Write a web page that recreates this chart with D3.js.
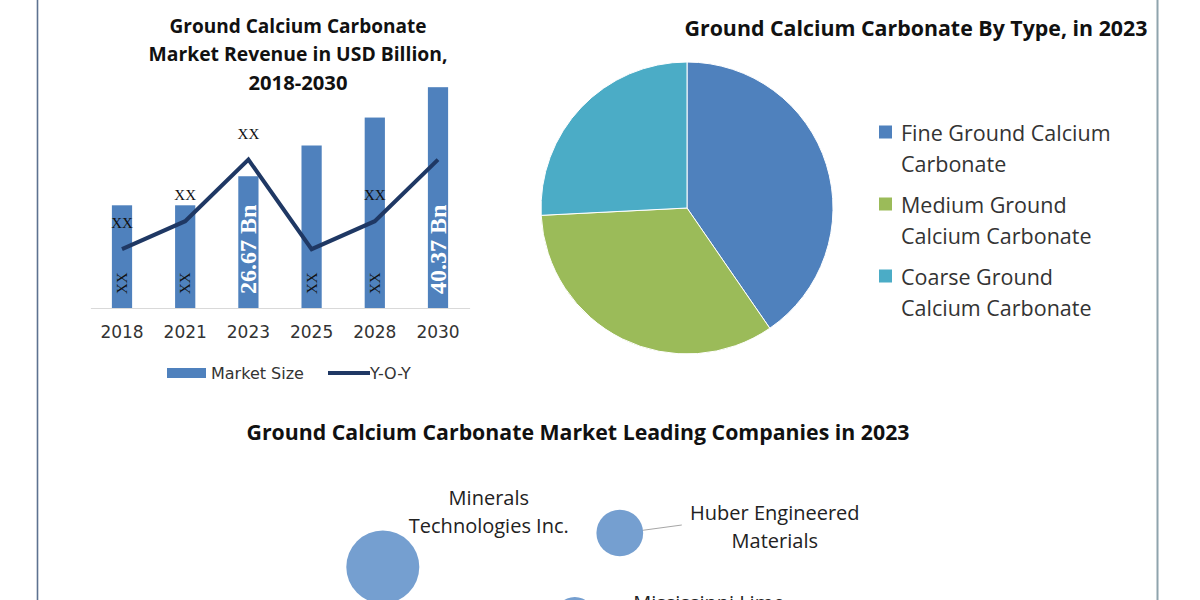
<!DOCTYPE html>
<html>
<head>
<meta charset="utf-8">
<script src="https://cdnjs.cloudflare.com/ajax/libs/d3/7.8.5/d3.min.js"></script>
<style>
	body { margin: 0; background: white; }
	svg { display: block; }
</style>
</head>
<body>
<script>
// bar + line chart data
var years = ['2018', '2021', '2023', '2025', '2028', '2030']
var marketSize = [22.2, 22.2, 26.67, 31.4, 35.7, 40.37]
var yoy = [2.1, 3.1, 5.3, 2.1, 3.1, 5.3]
var barLabels = ['XX', 'XX', '26.67 Bn', 'XX', 'XX', '40.37 Bn']
var lineLabels = ['XX', 'XX', 'XX', '', 'XX', '']

// pie data
var types = [
	'Fine Ground Calcium Carbonate',
	'Medium Ground Calcium Carbonate',
	'Coarse Ground Calcium Carbonate'
]
var typeLines = [
	['Fine Ground Calcium', 'Carbonate'],
	['Medium Ground', 'Calcium Carbonate'],
	['Coarse Ground', 'Calcium Carbonate']
]
var typeShare = [40.4, 33.8, 25.8]

// bubble data
var companies = ['Minerals Technologies Inc.', 'Huber Engineered Materials', 'Mississippi Lime']
var companyLines = [
	['Minerals', 'Technologies Inc.'],
	['Huber Engineered', 'Materials'],
	['Mississippi Lime']
]
var bubbleX = [1.38, 5.33, 4.58]
var bubbleY = [3.65, 5.35, 1.15]
var bubbleSize = [100, 41, 30]

var barColor = '#4f81bd'
var lineColor = '#1f3864'
var pieColor = d3.scaleOrdinal()
	.domain(types)
	.range(['#4f81bd', '#9bbb59', '#4bacc6'])

var width = 1200,
	height = 600

var svg = d3.select('body').append('svg')
	.attr('width', width)
	.attr('height', height)

svg.append('rect')
	.attr('width', width)
	.attr('height', height)
	.attr('fill', 'white')

// frame lines
svg.append('line')
	.attr('x1', 37.5).attr('x2', 37.5)
	.attr('y1', 0).attr('y2', height)
	.attr('stroke', '#5d7290')
	.attr('stroke-width', 1.6)

svg.append('line')
	.attr('x1', 1157.5).attr('x2', 1157.5)
	.attr('y1', 0).attr('y2', height)
	.attr('stroke', '#8fa4ad')
	.attr('stroke-width', 2)

var titleFont = '"Open Sans", Lato, sans-serif'

createBarChart()
createPie()
createBubbles()


function createBarChart() {
	var g = svg.append('g')

	// title lines and their widths in the original
	var title = ['Ground Calcium Carbonate', 'Market Revenue in USD Billion,', '2018-2030']
	var titleWidth = [257, 299, 99]
	g.selectAll('.title')
		.data(title)
		.enter()
		.append('text')
			.attr('x', 298)
			.attr('y', (d, i) => 25 + i * 28.5)
			.attr('text-anchor', 'middle')
			.attr('dominant-baseline', 'central')
			.attr('textLength', (d, i) => titleWidth[i])
			.attr('lengthAdjust', 'spacingAndGlyphs')
			.style('font-family', titleFont)
			.style('font-weight', 'bold')
			.style('font-size', '19.5px')
			.attr('fill', '#111')
			.text(d => d)

	var x = d3.scaleBand()
		.domain(years)
		.range([90.4, 469.6])
		.paddingInner(0.68)
		.paddingOuter(0.34)

	var y = d3.scaleLinear()
		.domain([6.4, 44])
		.range([308, 63.6])

	var y2 = d3.scaleLinear()
		.domain([0, 8])
		.range([308, 84])

	g.selectAll('.bar')
		.data(marketSize)
		.enter()
		.append('rect')
			.attr('class', 'bar')
			.attr('x', (d, i) => x(years[i]))
			.attr('y', d => y(d))
			.attr('width', x.bandwidth())
			.attr('height', d => y.range()[0] - y(d))
			.attr('fill', barColor)

	// axis
	var axis = g.append('g')
		.attr('transform', 'translate(0,' + y.range()[0] + ')')
		.call(d3.axisBottom(x).tickSize(0).tickPadding(18))

	axis.select('.domain')
		.attr('stroke', '#d9d9d9')
		.attr('stroke-width', 1.2)

	axis.selectAll('text')
		.style('font-family', '"DejaVu Sans", sans-serif')
		.style('font-size', '17px')
		.attr('fill', '#333')

	// labels inside bars
	g.selectAll('.barlabel')
		.data(barLabels)
		.enter()
		.append('text')
			.attr('transform', (d, i) => 'translate(' + (x(years[i]) + x.bandwidth() / 2) + ',294) rotate(-90)')
			.attr('dominant-baseline', 'central')
			.style('font-family', '"Liberation Serif", serif')
			.style('font-weight', d => d == 'XX' ? 'normal' : 'bold')
			.style('font-size', d => d == 'XX' ? '15px' : '24px')
			.attr('fill', d => d == 'XX' ? '#111' : 'white')
			.text(d => d)

	var line = d3.line()
		.x((d, i) => x(years[i]) + x.bandwidth() / 2)
		.y(d => y2(d))

	g.append('path')
		.datum(yoy)
		.attr('d', line)
		.attr('fill', 'none')
		.attr('stroke', lineColor)
		.attr('stroke-width', 4)
		.attr('stroke-linejoin', 'miter')

	g.selectAll('.linelabel')
		.data(lineLabels)
		.enter()
		.append('text')
			.attr('x', (d, i) => x(years[i]) + x.bandwidth() / 2)
			.attr('y', (d, i) => y2(yoy[i]) - 26)
			.attr('text-anchor', 'middle')
			.attr('dominant-baseline', 'central')
			.style('font-family', '"Liberation Serif", serif')
			.style('font-size', '15px')
			.attr('fill', '#111')
			.text(d => d)

	// legend
	var lg = g.append('g')

	lg.append('rect')
		.attr('x', 167)
		.attr('y', 368)
		.attr('width', 39)
		.attr('height', 10)
		.attr('fill', barColor)

	lg.append('text')
		.attr('x', 211)
		.attr('y', 373)
		.attr('dominant-baseline', 'central')
		.style('font-family', '"DejaVu Sans", sans-serif')
		.style('font-size', '16px')
		.attr('fill', '#333')
		.text('Market Size')

	lg.append('line')
		.attr('x1', 328).attr('x2', 370)
		.attr('y1', 373).attr('y2', 373)
		.attr('stroke', lineColor)
		.attr('stroke-width', 4)

	lg.append('text')
		.attr('x', 370)
		.attr('y', 373)
		.attr('dominant-baseline', 'central')
		.style('font-family', '"DejaVu Sans", sans-serif')
		.style('font-size', '16px')
		.attr('fill', '#333')
		.text('Y-O-Y')
}


function createPie() {
	var g = svg.append('g')

	g.append('text')
		.attr('x', 916)
		.attr('y', 28)
		.attr('text-anchor', 'middle')
		.attr('dominant-baseline', 'central')
		.attr('textLength', 463)
		.attr('lengthAdjust', 'spacingAndGlyphs')
		.style('font-family', titleFont)
		.style('font-weight', 'bold')
		.style('font-size', '21px')
		.attr('fill', '#111')
		.text('Ground Calcium Carbonate By Type, in 2023')

	var pie = d3.pie().sort(null)
	var arc = d3.arc().innerRadius(0).outerRadius(146)

	g.append('g')
		.attr('transform', 'translate(687,208)')
		.selectAll('path')
		.data(pie(typeShare))
		.enter()
		.append('path')
			.attr('d', arc)
			.attr('fill', (d, i) => pieColor(types[i]))
			.attr('stroke', 'white')
			.attr('stroke-width', 1)

	// legend
	var items = g.selectAll('.legend')
		.data(types)
		.enter()
		.append('g')
			.attr('transform', (d, i) => 'translate(879,' + (132 + i * 72) + ')')

	items.append('rect')
		.attr('x', 0)
		.attr('y', -6.5)
		.attr('width', 13)
		.attr('height', 13)
		.attr('fill', d => pieColor(d))

	items.selectAll('text')
		.data((d, i) => typeLines[i])
		.enter()
		.append('text')
			.attr('x', 22)
			.attr('y', (d, i) => i * 31)
			.attr('dominant-baseline', 'central')
			.style('font-family', titleFont)
			.style('font-size', '21.5px')
			.attr('fill', '#333')
			.text(d => d)
}


function createBubbles() {
	var g = svg.append('g')

	g.append('text')
		.attr('x', 578)
		.attr('y', 432)
		.attr('text-anchor', 'middle')
		.attr('dominant-baseline', 'central')
		.attr('textLength', 663)
		.attr('lengthAdjust', 'spacingAndGlyphs')
		.style('font-family', titleFont)
		.style('font-weight', 'bold')
		.style('font-size', '20.5px')
		.attr('fill', '#111')
		.text('Ground Calcium Carbonate Market Leading Companies in 2023')

	var x = d3.scaleLinear().domain([0, 10]).range([300, 900])
	var y = d3.scaleLinear().domain([0, 10]).range([640, 440])
	var r = d3.scaleSqrt().domain([0, 100]).range([0, 36.5])

	// label offsets from bubble centre
	var labelPos = [
		{dx: 106, dy: -70},
		{dx: 155, dy: -21},
		{dx: 134, dy: -15}
	]

	// leader line for Huber
	g.append('line')
		.attr('x1', x(bubbleX[1]) + 3)
		.attr('y1', y(bubbleY[1]))
		.attr('x2', x(bubbleX[1]) + 62)
		.attr('y2', y(bubbleY[1]) - 8)
		.attr('stroke', '#a6a6a6')
		.attr('stroke-width', 1)

	g.selectAll('circle')
		.data(bubbleSize)
		.enter()
		.append('circle')
			.attr('cx', (d, i) => x(bubbleX[i]))
			.attr('cy', (d, i) => y(bubbleY[i]))
			.attr('r', d => r(d))
			.attr('fill', '#759fd0')

	var labels = g.selectAll('.blabel')
		.data(companies)
		.enter()
		.append('g')
			.attr('transform', (d, i) => 'translate(' + (x(bubbleX[i]) + labelPos[i].dx) + ',' + (y(bubbleY[i]) + labelPos[i].dy) + ')')

	labels.selectAll('text')
		.data((d, i) => companyLines[i])
		.enter()
		.append('text')
			.attr('x', 0)
			.attr('y', (d, i) => i * 28)
			.attr('text-anchor', 'middle')
			.attr('dominant-baseline', 'central')
			.style('font-family', titleFont)
			.style('font-size', '20px')
			.attr('fill', '#222')
			.text(d => d)
}
</script>
</body>
</html>
